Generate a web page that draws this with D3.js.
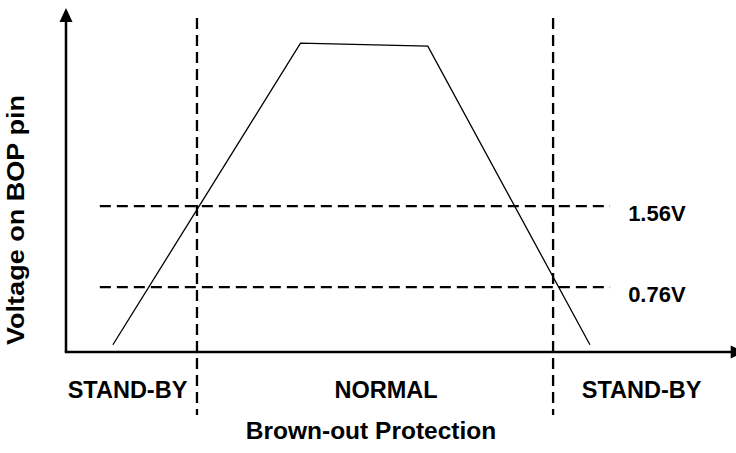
<!DOCTYPE html>
<html>
<head>
<meta charset="utf-8">
<script src="https://cdn.jsdelivr.net/npm/d3@7"></script>
<style>
  body { margin: 0; background: #fff; }
  text { font-family: "Liberation Sans", Arial, sans-serif; font-weight: bold; fill: #000; }
</style>
</head>
<body>
<svg id="chart" width="736" height="453"></svg>
<script>
// DATA ---------------------------------------------------------------------

// time (arbitrary units) and BOP pin voltage of the trace
var traceT = [7, 35, 54, 78.2];
var traceV = [0.19, 3.17, 3.14, 0.19];

// threshold levels and their labels
var thresholds = [1.56, 0.76];
var thresholdLabels = ["1.56V", "0.76V"];

// state boundaries (time) and state names
var stateBounds = [19.55, 72.7];
var stateLabels = ["STAND-BY", "NORMAL", "STAND-BY"];

var xTitle = "Brown-out Protection";
var yTitle = "Voltage on BOP pin";


// SCALES -------------------------------------------------------------------

var svg = d3.select("#chart");

var x = d3.scaleLinear().domain([0, 100]).range([66, 736]);
var y = d3.scaleLinear().domain([0, 3.3]).range([364, 30]);

var axisY = 352;   // pixel row of the time axis
var tEnd = 101;    // time axis runs a bit past the window edge


// AXES ---------------------------------------------------------------------

// vertical axis with arrow head
svg.append("line")
    .attr("x1", x(0)).attr("y1", axisY)
    .attr("x2", x(0)).attr("y2", 20)
    .attr("stroke", "#000").attr("stroke-width", 2.5);
svg.append("path")
    .attr("d", d3.line()([[x(0) - 6.5, 22], [x(0), 8], [x(0) + 6.5, 22]]) + "Z")
    .attr("fill", "#000");

// horizontal axis with arrow head
svg.append("line")
    .attr("x1", x(0) - 1.25).attr("y1", axisY)
    .attr("x2", x(tEnd) - 10).attr("y2", axisY)
    .attr("stroke", "#000").attr("stroke-width", 2.5);
svg.append("path")
    .attr("d", d3.line()([[x(tEnd) - 12, axisY - 6.5], [x(tEnd) + 2, axisY], [x(tEnd) - 12, axisY + 6.5]]) + "Z")
    .attr("fill", "#000");


// DASHED GUIDES ------------------------------------------------------------

svg.selectAll(".thresh").data(thresholds).enter()
    .append("line")
    .attr("class", "thresh")
    .attr("x1", x(5.05)).attr("x2", x(81.2))
    .attr("y1", function(d) { return y(d); })
    .attr("y2", function(d) { return y(d); })
    .attr("stroke", "#000").attr("stroke-width", 2.3)
    .attr("stroke-dasharray", "11,6");

svg.selectAll(".bound").data(stateBounds).enter()
    .append("line")
    .attr("class", "bound")
    .attr("x1", function(d) { return x(d); })
    .attr("x2", function(d) { return x(d); })
    .attr("y1", 18).attr("y2", 415)
    .attr("stroke", "#000").attr("stroke-width", 2.3)
    .attr("stroke-dasharray", "11,6");


// TRACE --------------------------------------------------------------------

var line = d3.line()
    .x(function(d, i) { return x(traceT[i]); })
    .y(function(d) { return y(d); });

svg.append("path")
    .datum(traceV)
    .attr("d", line)
    .attr("fill", "none")
    .attr("stroke", "#000")
    .attr("stroke-width", 1.3);


// LABELS -------------------------------------------------------------------

svg.selectAll(".tlabel").data(thresholdLabels).enter()
    .append("text")
    .attr("class", "tlabel")
    .attr("x", x(83.9))
    .attr("y", function(d, i) { return y(thresholds[i]) + 15; })
    .attr("font-size", 22)
    .text(function(d) { return d; });

// state names centred in each region
var edges = [0].concat(stateBounds, [100]);
var nudge = [-4, 11, -3];
svg.selectAll(".slabel").data(stateLabels).enter()
    .append("text")
    .attr("class", "slabel")
    .attr("x", function(d, i) { return (x(edges[i]) + x(edges[i + 1])) / 2 + nudge[i]; })
    .attr("y", 398)
    .attr("text-anchor", "middle")
    .attr("font-size", 23.5)
    .text(function(d) { return d; });

svg.append("text")
    .attr("x", (x(0) + x(100)) / 2 - 30)
    .attr("y", 439)
    .attr("text-anchor", "middle")
    .attr("font-size", 24.5)
    .text(xTitle);

svg.append("text")
    .attr("transform", "translate(24," + 220 + ") rotate(-90)")
    .attr("text-anchor", "middle")
    .attr("font-size", 23)
    .attr("textLength", 250)
    .attr("lengthAdjust", "spacingAndGlyphs")
    .text(yTitle);
</script>
</body>
</html>
